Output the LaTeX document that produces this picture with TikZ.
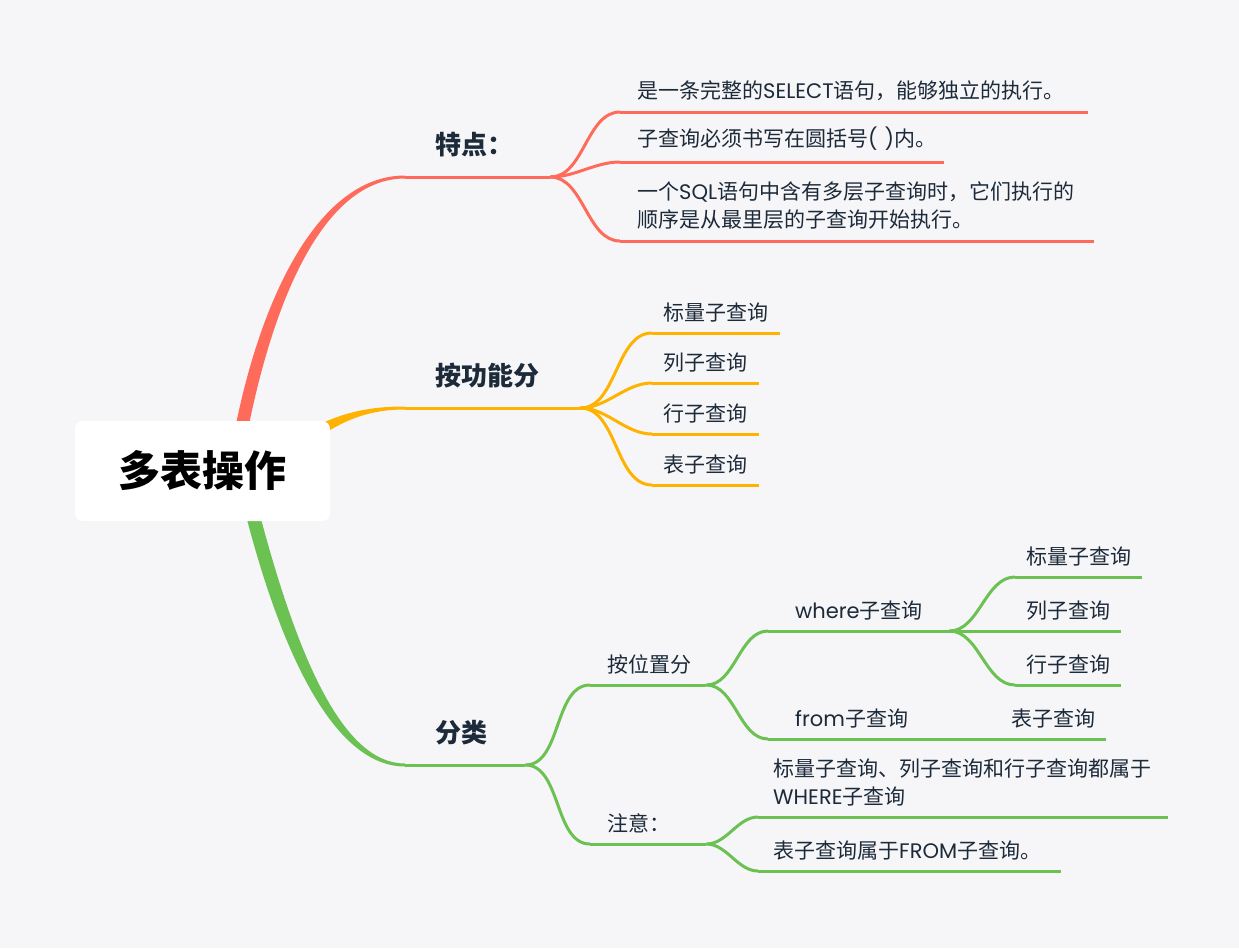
\documentclass[tikz,border=0pt]{standalone}
\usepackage{fontspec}
\setmainfont{Noto Sans CJK SC}
\newfontfamily\lat{Poppins}
\definecolor{bg}{HTML}{F6F6F8}
\definecolor{ink}{HTML}{1C2A3A}
\definecolor{cred}{HTML}{FF6B5A}
\definecolor{cyel}{HTML}{FFB300}
\definecolor{cgrn}{HTML}{6CC153}

\begin{document}
\begin{tikzpicture}[x=1pt,y=-1pt,
	root/.style={fill=white,rounded corners=8pt,minimum width=255pt,minimum height=100pt,inner sep=0pt,text=black,font=\fontsize{42}{50}\selectfont\bfseries},
	topic/.style={anchor=south west,inner xsep=30pt,inner ysep=20pt,align=left,text=ink,font=\fontsize{26}{32}\selectfont\bfseries},
	leaf/.style={anchor=south west,inner xsep=#1,inner ysep=11pt,align=left,text=ink,font=\fontsize{21}{28}\selectfont},
	leaf/.default=11pt,
	bar/.style={line width=3pt},
	twig/.style={line width=3pt,out=0,in=180,looseness=0.9}]
	\useasboundingbox (0,0) rectangle (1239,948);
	\fill[bg] (0,0) rectangle (1239,948);
	% topics
	\node[topic,text width=85pt] (tp) at (405,177) {特点：};
	\node[topic,text width=115pt] (gn) at (405,408) {按功能分};
	\node[topic,text width=60pt] (fl) at (405,765) {分类};
	% red leaves
	\node[leaf=17pt,text width=434pt] (r1) at (620,112) {是一条完整的{\lat SELECT}语句，能够独立的执行。};
	\node[leaf=17pt,text width=290pt] (r2) at (620,162) {\mbox{子查询必须书写在圆括号{\lat ( )}内。}};
	\node[leaf=17pt,text width=440pt] (r3) at (620,241) {一个{\lat SQL}语句中含有多层子查询时，它们执行的\\顺序是从最里层的子查询开始执行。};
	% yellow leaves
	\node[leaf,text width=106pt] (o1) at (652,333) {标量子查询};
	\node[leaf,text width=85pt] (o2) at (652,383) {列子查询};
	\node[leaf,text width=85pt] (o3) at (652,434) {行子查询};
	\node[leaf,text width=85pt] (o4) at (652,485) {表子查询};
	% green subtree
	\node[leaf=17pt,text width=82pt] (pos) at (590,685) {按位置分};
	\node[leaf=17pt,text width=82pt] (nt) at (590,844) {注意：};
	\node[leaf=27pt,text width=127pt] (wh) at (768,631) {{\lat where}子查询};
	\node[leaf=27pt,text width=163pt] (fr) at (768,739) {{\lat from}子查询};
	\node[leaf,text width=105pt] (g1) at (1015,577) {标量子查询};
	\node[leaf,text width=84pt] (g2) at (1015,631) {列子查询};
	\node[leaf,text width=84pt] (g3) at (1015,685) {行子查询};
	\node[leaf,text width=84pt] (g4) at (1000,739) {表子查询};
	\node[leaf=15pt,text width=380pt] (n1) at (758,817) {标量子查询、列子查询和行子查询都属于\\{\lat WHERE}子查询};
	\node[leaf=15pt,text width=273pt] (n2) at (758,871) {表子查询属于{\lat FROM}子查询。};
	% underlines
	\foreach \n in {tp,r1,r2,r3} \draw[bar,cred] (\n.south west) -- (\n.south east);
	\foreach \n in {gn,o1,o2,o3,o4} \draw[bar,cyel] (\n.south west) -- (\n.south east);
	\foreach \n in {fl,pos,nt,wh,fr,g1,g2,g3,g4,n1,n2} \draw[bar,cgrn] (\n.south west) -- (\n.south east);
	% connectors
	\foreach \n in {r1,r2,r3} \draw[twig,cred] (tp.south east) to (\n.south west);
	\foreach \n in {o1,o2,o3,o4} \draw[twig,cyel] (gn.south east) to (\n.south west);
	\foreach \n in {pos,nt} \draw[twig,cgrn] (fl.south east) to (\n.south west);
	\foreach \n in {wh,fr} \draw[twig,cgrn] (pos.south east) to (\n.south west);
	\foreach \n in {g1,g2,g3} \draw[twig,cgrn] (wh.south east) to (\n.south west);
	\draw[twig,cgrn] (fr.south east) to (g4.south west);
	\foreach \n in {n1,n2} \draw[twig,cgrn] (nt.south east) to (\n.south west);
	% main branches, thick at the root
	\fill[cred] (232,445) .. controls (258,300) and (318,175.5) .. ([yshift=1.5pt]tp.south west) -- ([yshift=-1.5pt]tp.south west) .. controls (322,178.5) and (271,305) .. (245,445) -- cycle;
	\fill[cyel] (305,432) .. controls (340,412) and (370,406.5) .. ([yshift=1.5pt]gn.south west) -- ([yshift=-1.5pt]gn.south west) .. controls (372,409.5) and (345,418) .. (312,442) -- cycle;
	\fill[cgrn] (242,500) .. controls (283,665) and (338,766.5) .. ([yshift=-1.5pt]fl.south west) -- ([yshift=1.5pt]fl.south west) .. controls (342,763.5) and (296,655) .. (256,500) -- cycle;
	% root
	\node[root] (root) at (202.5,471) {多表操作};
\end{tikzpicture}
\end{document}
